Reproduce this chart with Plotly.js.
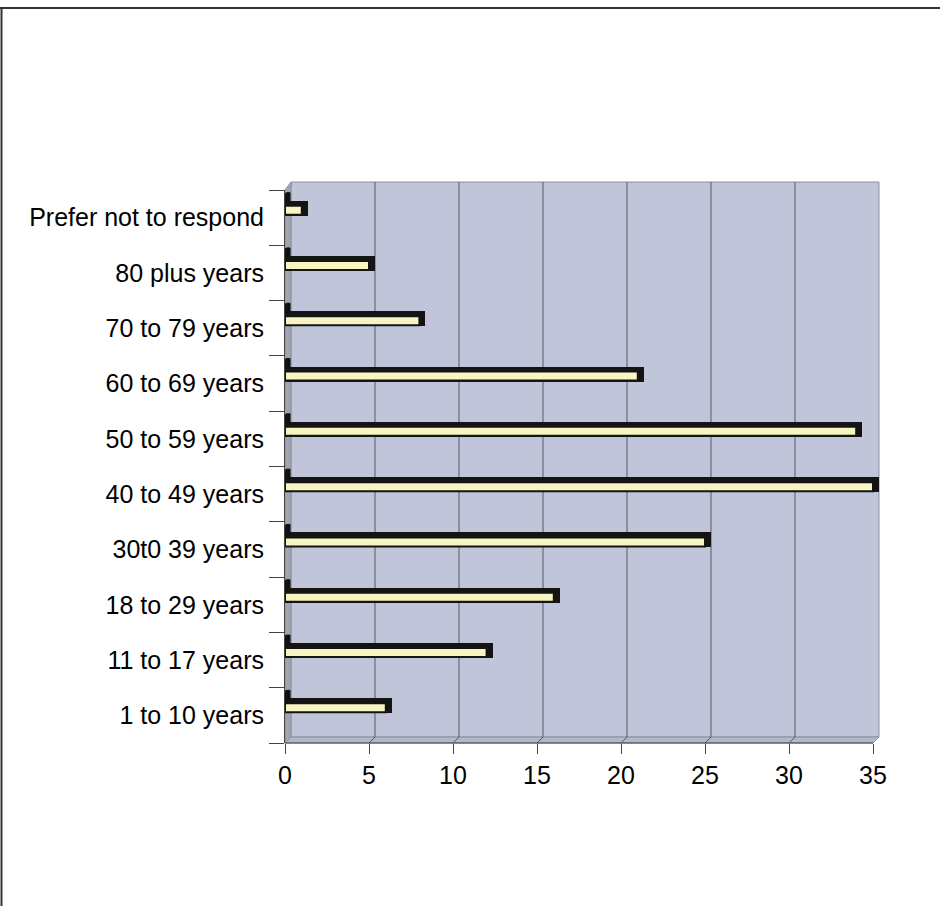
<!DOCTYPE html>
<html>
<head>
<meta charset="utf-8">
<script src="https://cdn.plot.ly/plotly-3.0.1.min.js"></script>
<style>html,body{margin:0;padding:0;background:#fff;}#chart{width:940px;height:906px;}</style>
</head>
<body>
<div id="chart"></div>
<script>
// ---- data ----
const categories = ['1 to 10 years', '11 to 17 years', '18 to 29 years', '30t0 39 years', '40 to 49 years',
                    '50 to 59 years', '60 to 69 years', '70 to 79 years', '80 plus years', 'Prefer not to respond'];
const values = [6, 12, 16, 25, 35, 34, 21, 8, 5, 1];
const xTicks = [0, 5, 10, 15, 20, 25, 30, 35];

// ---- style ----
const W = 940, H = 906;
const depthPx = 6;                                 // 3D depth in pixels
const L = 285, T = 190, B = 163;
const axisW = 588;                                 // pixel length of 0..35 on the front axis
const R = W - L - axisW - depthPx;                 // plot area also holds the 3D depth on the right
const plotW = axisW + depthPx, plotH = H - T - B;
const xMax = xTicks[xTicks.length - 1];
const depthUnits = depthPx * xMax / axisW;         // depth in x units
const px = p => (p - L) / plotW;                   // page px -> paper x
const py = p => (H - B - p) / plotH;               // page px -> paper y
const axisR = L + axisW;

const shapes = [];
// outer frame
shapes.push({type:'line', xref:'paper', yref:'paper', x0:px(0), x1:px(W), y0:py(8), y1:py(8), line:{color:'#333', width:2}, layer:'above'});
shapes.push({type:'line', xref:'paper', yref:'paper', x0:px(1.5), x1:px(1.5), y0:py(8), y1:py(H), line:{color:'#333', width:2}, layer:'above'});
// back wall
shapes.push({type:'rect', xref:'paper', yref:'paper', x0:px(L+depthPx), x1:px(axisR+depthPx), y0:py(H-B-depthPx), y1:py(T-8),
             fillcolor:'#c1c5da', line:{color:'#8d91a3', width:1}, layer:'below'});
// left wall
shapes.push({type:'path', xref:'paper', yref:'paper', layer:'below',
             path:`M${px(L)},${py(T)} L${px(L+depthPx)},${py(T-8)} L${px(L+depthPx)},${py(H-B-depthPx)} L${px(L)},${py(H-B)} Z`,
             fillcolor:'#a2a5b0', line:{color:'#8d91a3', width:1}});
// floor
shapes.push({type:'path', xref:'paper', yref:'paper', layer:'below',
             path:`M${px(L)},${py(H-B)} L${px(L+depthPx)},${py(H-B-depthPx)} L${px(axisR+depthPx)},${py(H-B-depthPx)} L${px(axisR)},${py(H-B)} Z`,
             fillcolor:'#b3b7cc', line:{color:'#8d91a3', width:1}});
// gridlines on the back wall and floor
xTicks.slice(1, -1).forEach(v => {
  shapes.push({type:'path', xref:'x', yref:'paper', xsizemode:'pixel', ysizemode:'pixel', xanchor:v, yanchor:0,
               path:`M0,0 L${depthPx},${depthPx} L${depthPx},${plotH + 8}`, line:{color:'#555a66', width:1}, layer:'below'});
});
// front x axis line (0..35 only) and tick marks
shapes.push({type:'line', xref:'x', yref:'paper', x0:0, x1:xMax, y0:0, y1:0, line:{color:'#444', width:1}, layer:'above'});
// little 3D tab at the left end of every bar
categories.forEach(c => {
  shapes.push({type:'path', xref:'x', yref:'y', xsizemode:'pixel', ysizemode:'pixel', xanchor:0, yanchor:c,
               path:'M0,16 L0,23 Q0,25 2,25 L5,25 L5,16 Z', fillcolor:'#111', line:{color:'#111', width:1}, layer:'above'});
});

const catH = plotH / categories.length;
const traces = [
  { // dark top/right faces of the 3D bars
    type:'bar', orientation:'h', y:categories, x:values.map(v => v + depthUnits),
    offset: 2 / catH, width: 15 / catH,
    marker:{color:'#141414', line:{width:0}}, hoverinfo:'skip', showlegend:false
  },
  { // front faces
    type:'bar', orientation:'h', y:categories, x:values,
    offset: 3 / catH, width: 9 / catH,
    marker:{color:'#f7f5c2', line:{color:'#141414', width:2}}, showlegend:false
  }
];

const font = {family:'"Liberation Sans", Arial, sans-serif', size:25, color:'#000'};
const layout = {
  width:W, height:H,
  margin:{l:L, r:R, t:T, b:B, pad:0},
  paper_bgcolor:'#ffffff', plot_bgcolor:'rgba(0,0,0,0)',
  barmode:'overlay', bargap:0,
  showlegend:false,
  font:font,
  xaxis:{range:[0, xMax + depthUnits], tickvals:xTicks, ticktext:xTicks.map(String), showgrid:false, zeroline:false,
         showline:false, ticks:'outside', ticklen:10, tickcolor:'#444',
         tickfont:font, automargin:false, fixedrange:true},
  yaxis:{type:'category', categoryorder:'array', categoryarray:categories, range:[-0.5, categories.length-0.5],
         showgrid:false, zeroline:false, showline:true, linecolor:'#444', linewidth:1,
         ticks:'outside', ticklen:15, tickcolor:'#444', tickson:'boundaries', ticklabelstandoff:15,
         tickfont:font, automargin:false, fixedrange:true},
  shapes:shapes
};
Plotly.newPlot('chart', traces, layout, {staticPlot:true, displayModeBar:false});
</script>
</body>
</html>
